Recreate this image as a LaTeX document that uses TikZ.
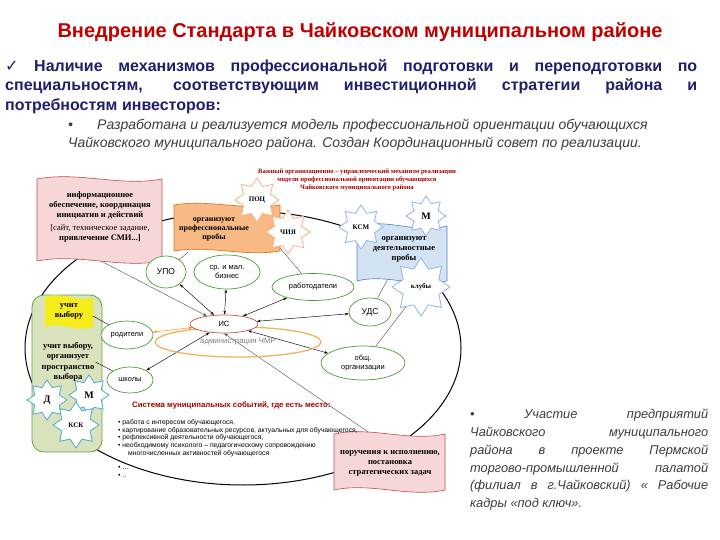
\documentclass[tikz,border=0pt]{standalone}
\usepackage{fontspec}
\setmainfont{Liberation Sans}
\newfontfamily\boxfont{Liberation Serif}
\newfontfamily\symfont{DejaVu Sans}
\usetikzlibrary{shapes.geometric}
\usetikzlibrary{arrows.meta}
\usetikzlibrary{positioning}

\definecolor{titlered}{HTML}{C00000}
\definecolor{navy}{HTML}{1F1F6B}
\definecolor{textgray}{HTML}{3C3C3C}
\definecolor{pinkfill}{HTML}{F6D6D6}
\definecolor{pinkline}{HTML}{C0504D}
\definecolor{orangefill}{HTML}{F8B984}
\definecolor{orangeline}{HTML}{E46C0A}
\definecolor{bluefill}{HTML}{D3E3F3}
\definecolor{blueline}{HTML}{4F81BD}
\definecolor{greenfill}{HTML}{D8E2BC}
\definecolor{greenline}{HTML}{5FA343}
\definecolor{yellowfill}{HTML}{F7EC1B}
\definecolor{ellgreen}{HTML}{4E9A3A}
\definecolor{starorange}{HTML}{F4B183}
\definecolor{starblue}{HTML}{8EB4E3}
\definecolor{starteal}{HTML}{4BACC6}
\definecolor{adminline}{HTML}{F2B35E}

\pgfdeclarelayer{bg}
\pgfsetlayers{bg,main}

% flag shaped box: style, x1, y1, x2, y2, wave
\newcommand{\flagbox}[6]{%
  \path[#1] (#2,#3) .. controls ({#2+(#4-#2)/3},{#3-2*#6}) and ({#2+2*(#4-#2)/3},{#3+2*#6}) .. (#4,#3)
    -- (#4,#5) .. controls ({#2+2*(#4-#2)/3},{#5+2*#6}) and ({#2+(#4-#2)/3},{#5-2*#6}) .. (#2,#5) -- cycle;}

\begin{document}
\begin{tikzpicture}[x=1pt,y=-1pt,>={Stealth[length=4pt,width=2.6pt]},
    oval/.style={ellipse,draw=ellgreen,line width=0.7pt,fill=white,inner sep=0pt,align=center,
      font=\fontsize{7.5}{8.5}\selectfont},
    starnode/.style={star,star points=8,star point ratio=1.5,draw=#1,fill=white,line width=0.8pt,
      inner sep=0pt,minimum size=44pt,font=\boxfont\bfseries\fontsize{7}{7}\selectfont},
    boxtext/.style={align=center,inner sep=1pt,font=\boxfont\bfseries\fontsize{8.5}{10}\selectfont},
    twoway/.style={<->,line width=0.45pt},
    oneway/.style={->,line width=0.4pt,draw=gray!60!black},
    thinline/.style={line width=0.4pt,draw=gray!60!black}]
  \useasboundingbox (0,0) rectangle (720,540);
  \begin{pgfonlayer}{bg}
    \fill[white] (0,0) rectangle (720,540);
    \draw[line width=1pt] (243,348) ellipse [x radius=218pt, y radius=137pt];
  \end{pgfonlayer}

  % texts
  \node[font=\bfseries\fontsize{20}{23}\selectfont,text=titlered] (title) at (360,32)
    {Внедрение Стандарта в Чайковском муниципальном районе};
  \node[anchor=north west,inner sep=0pt,text width=692pt,align=justify,text=navy,
    font=\bfseries\fontsize{16}{19.5}\selectfont] (mech) at (5,59)
    {{\symfont\mdseries ✓} Наличие механизмов профессиональной подготовки и переподготовки по\linebreak
     специальностям, соответствующим инвестиционной стратегии района и\linebreak
     потребностям инвесторов:};
  \node[anchor=base west,inner sep=0pt,font=\itshape\fontsize{14}{16}\selectfont,text=textgray] (dot1) at (68,130) {•};
  \node[anchor=base west,inner sep=0pt,font=\itshape\fontsize{14}{16}\selectfont,text=textgray] (model1) at (97,130)
    {Разработана и реализуется модель профессиональной ориентации обучающихся};
  \node[anchor=base west,inner sep=0pt,font=\itshape\fontsize{14}{16}\selectfont,text=textgray] (model2) at (68,148)
    {Чайковского муниципального района. Создан Координационный совет по реализации.};
  \node[anchor=north west,inner sep=0pt,text width=238pt,align=justify,text=textgray,
    font=\itshape\fontsize{12.8}{17.8}\selectfont] (part) at (470,409)
    {• Участие предприятий\linebreak Чайковского муниципального\linebreak района в проекте Пермской\linebreak
     торгово-промышленной палатой\linebreak (филиал в г.Чайковский) « Рабочие\linebreak кадры «под ключ».};
  \node[align=center,text=titlered!85!black,font=\boxfont\bfseries\fontsize{6.6}{7.6}\selectfont] (cap) at (357,180)
    {Важный организационно – управленческий механизм реализации\\ модели профессиональной ориентации обучающихся\\
     Чайковского муниципального района};

  % containers
  \flagbox{fill=pinkfill,draw=pinkline,line width=0.6pt}{37}{179}{162}{261}{4}
  \node[boxtext] (info) at (100,217) {информационное\\ обеспечение, координация\\ инициатив и действий\\[3pt]
    \mdseries [сайт, техническое задание,\\ привлечение СМИ...]};
  \flagbox{fill=orangefill,draw=orangeline,line width=0.6pt}{174}{205}{280}{251}{3}
  \node[starnode=starorange] (poc) at (257,200) {ПОЦ};
  \node[starnode=starorange] (chiya) at (288,232) {ЧИЯ};
  \node[boxtext,font=\boxfont\bfseries\fontsize{8}{9}\selectfont] (prob) at (214,229) {организуют\\ профессиональные\\ пробы};
  \flagbox{fill=bluefill,draw=blueline,line width=0.6pt}{357}{226}{447}{281}{4}
  \node[starnode=starblue,minimum size=44pt] (ksm) at (361,227) {КСМ};
  \node[starnode=starblue,minimum size=40pt,font=\boxfont\bfseries\fontsize{10}{10}\selectfont] (mb) at (426,216) {М};
  \node[starnode=starblue,minimum size=58pt] (club) at (421,287) {клубы};
  \node[boxtext] (deyat) at (404,249) {организуют\\ деятельностные\\ пробы};
  \draw[fill=greenfill,draw=greenline,line width=0.8pt,rounded corners=12pt] (32,295) rectangle (102,452);
  \flagbox{fill=yellowfill,draw=none}{45}{297}{93}{327}{3}
  \node[boxtext] (uchit) at (69,311) {учит\\ выбору};
  \node[starnode=starteal,minimum size=40pt,font=\boxfont\bfseries\fontsize{10}{10}\selectfont] (dst) at (47,400) {Д};
  \node[starnode=starteal,minimum size=40pt,font=\boxfont\bfseries\fontsize{10}{10}\selectfont] (mg) at (89,395) {М};
  \node[starnode=starteal,minimum size=46pt] (ksk) at (76,425) {КСК};
  \node[boxtext,font=\boxfont\bfseries\fontsize{8.5}{10.4}\selectfont] (prost) at (68,362)
    {учит выбору,\\ организует\\ пространство\\ выбора};
  \flagbox{fill=pinkfill,draw=pinkline,line width=0.6pt}{334}{434}{445}{490}{4}
  \node[boxtext] (poruch) at (390,463) {поручения к исполнению,\\ постановка\\ стратегических задач};

  % participants
  \node[ellipse,draw=adminline,line width=1.3pt,minimum width=166pt,minimum height=30pt,
    text=gray,font=\fontsize{7.8}{8}\selectfont] (admin) at (238,342) {\raisebox{-3pt}{администрация ЧМР}};
  \node[oval,minimum width=40pt,minimum height=32pt,font=\fontsize{8.5}{9}\selectfont] (upo) at (166,272) {УПО};
  \node[oval,minimum width=66pt,minimum height=34pt] (biz) at (227,272) {ср. и мал.\\ бизнес};
  \node[oval,minimum width=82pt,minimum height=27pt] (empl) at (313,287) {работодатели};
  \node[oval,draw=pinkline,minimum width=68pt,minimum height=18pt] (is) at (224,324) {ИС};
  \node[oval,minimum width=42pt,minimum height=28pt,font=\fontsize{8.5}{9}\selectfont] (uds) at (370,312) {УДС};
  \node[oval,minimum width=84pt,minimum height=34pt] (obsh) at (363,363) {общ.\\ организации};
  \node[oval,minimum width=52pt,minimum height=28pt] (rod) at (127,335) {родители};
  \node[oval,minimum width=46pt,minimum height=26pt] (shk) at (130,380) {школы};

  % events
  \node[anchor=west,inner sep=0pt,text=titlered!85!black,font=\bfseries\fontsize{7.8}{8}\selectfont] (sys) at (132,405)
    {Система муниципальных событий, где есть место:};
  \node[anchor=north west,align=left,inner sep=0pt,font=\fontsize{6.8}{7.9}\selectfont] (list) at (118,419)
    {• работа с интересом обучающегося,\\
     • картирование образовательных ресурсов, актуальных для обучающегося,\\
     • рефлексивной деятельности обучающегося,\\
     • необходимому психолого – педагогическому сопровождению\\
     \hspace*{10pt}многочисленных активностей обучающегося\\[6pt]
     • …\\
     • ..};

  \coordinate (infobot) at (97,259);
  \coordinate (probleft) at (188,252);
  \coordinate (probright) at (280,248);
  \coordinate (poruchtop) at (380,440);
  \coordinate (yellowedge) at (93,316);
  \begin{pgfonlayer}{bg}
    \draw[twoway] (is) -- (upo);
    \draw[twoway] (is) -- (biz);
    \draw[twoway] (is) -- (empl);
    \draw[twoway] (is) -- (uds);
    \draw[twoway] (is) -- (obsh);
    \draw[twoway] (is) -- (shk);
    \draw[twoway,draw=orange] (is) -- (rod);
    \draw[oneway] (infobot) -- (is.155);
    \draw[oneway] (poruchtop) -- (is.south);
    \draw[thinline] (probleft) -- (upo);
    \draw[thinline] (probright) -- (empl);
    \draw[thinline] (deyat) -- (uds);
    \draw[thinline] (club) -- (obsh);
  \end{pgfonlayer}
  \draw[thinline,draw=black] (yellowedge) -- (rod);
  \draw[thinline,draw=black] (prost.east) -- (shk);
\end{tikzpicture}
\end{document}
